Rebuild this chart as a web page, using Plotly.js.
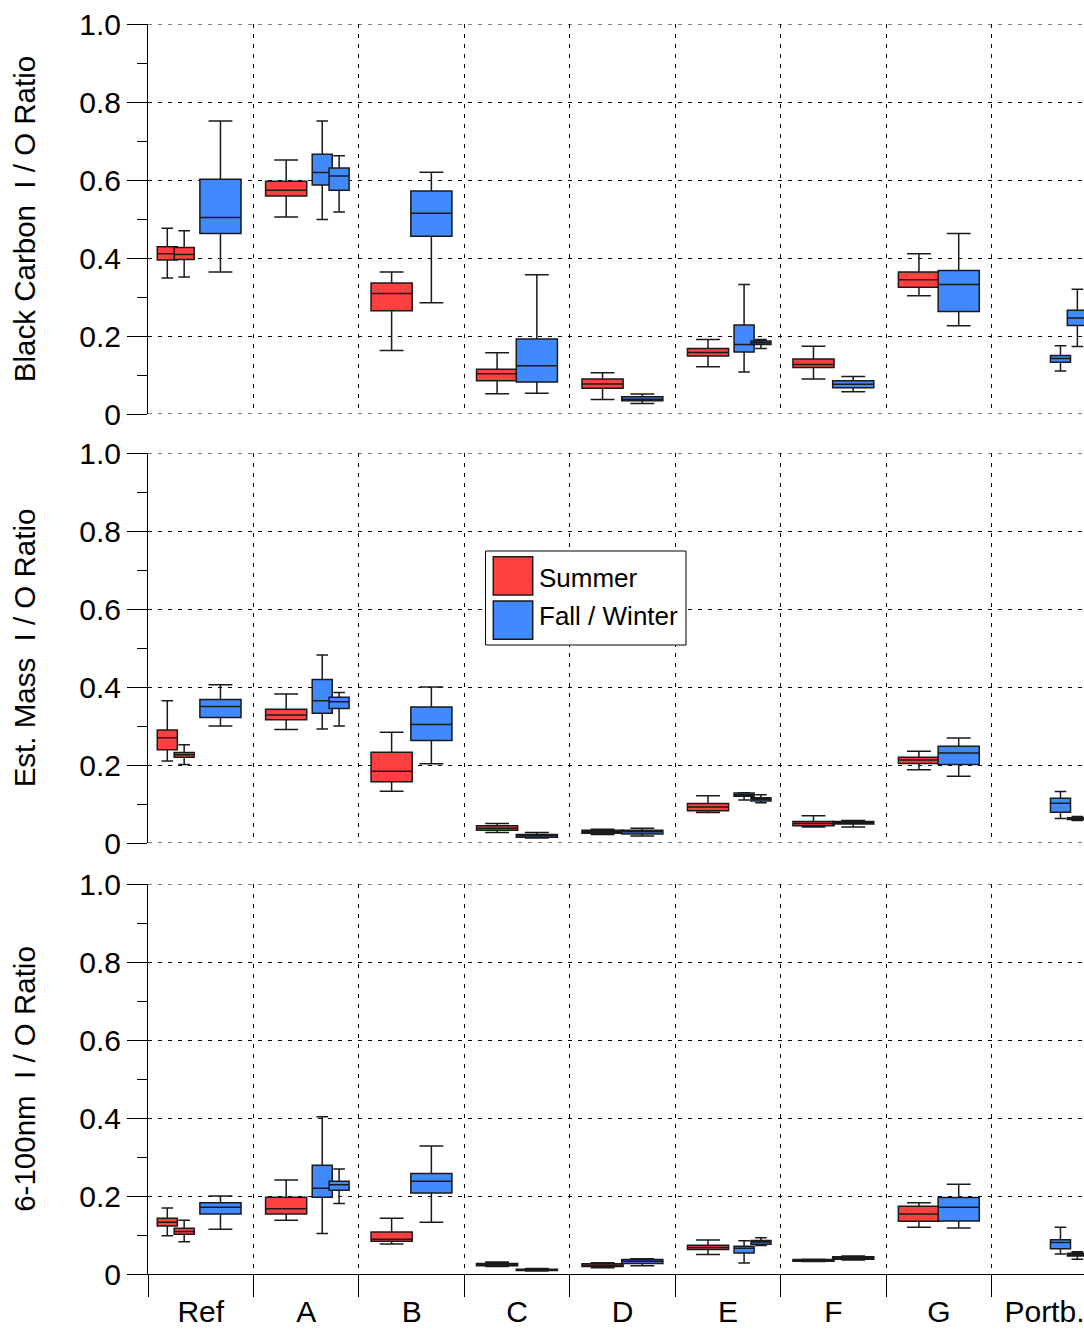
<!DOCTYPE html>
<html>
<head>
<meta charset="utf-8">
<script src="https://cdn.plot.ly/plotly-3.0.1.min.js"></script>
<style>html,body{margin:0;padding:0;background:#fff;}#chart{width:1084px;height:1329px;}</style>
</head>
<body>
<div id="chart"></div>
<script>
// ---------- data ----------
const categories = ['Ref', 'A', 'B', 'C', 'D', 'E', 'F', 'G', 'Portb.'];
const seriesNames = ['Summer', 'Fall / Winter'];
const yTickVals = [0, 0.2, 0.4, 0.6, 0.8, 1.0];
const yTickText = ['0', '0.2', '0.4', '0.6', '0.8', '1.0'];
const panelTitles = ['Black Carbon\u00a0\u00a0I / O Ratio', 'Est. Mass\u00a0\u00a0I / O Ratio', '6-100nm\u00a0\u00a0I / O Ratio'];

// each box: [lower whisker, q1, median, q3, upper whisker]; null = no box for that category
// Black carbon
const bcSummer = [null, [0.505,0.559,0.574,0.597,0.651], [0.163,0.265,0.309,0.336,0.364], [0.052,0.085,0.103,0.115,0.157], [0.037,0.066,0.077,0.090,0.106], [0.121,0.149,0.158,0.168,0.191], [0.090,0.119,0.127,0.141,0.174], [0.303,0.325,0.344,0.364,0.411], null];
const bcSummerPair = [[[0.349,0.395,0.411,0.429,0.476],[0.351,0.396,0.409,0.427,0.470]], null, null, null, null, null, null, null, null];
const bcWinter = [[0.364,0.463,0.504,0.602,0.751], null, [0.285,0.456,0.515,0.572,0.620], [0.053,0.082,0.124,0.192,0.357], [0.027,0.034,0.038,0.044,0.051], null, [0.057,0.067,0.076,0.085,0.096], [0.226,0.263,0.332,0.368,0.463], null];
const bcWinterPair = [null, [[0.499,0.587,0.619,0.666,0.751],[0.518,0.574,0.610,0.631,0.662]], null, null, null, [[0.108,0.159,0.178,0.228,0.332],[0.168,0.178,0.183,0.187,0.191]], null, null, [[0.110,0.133,0.142,0.150,0.175],[0.173,0.227,0.246,0.266,0.320]]];
// Estimated mass
const massSummer = [null, [0.291,0.316,0.328,0.343,0.382], [0.133,0.157,0.184,0.233,0.284], [0.027,0.033,0.038,0.044,0.050], [0.022,0.025,0.029,0.033,0.035], [0.078,0.083,0.092,0.101,0.121], [0.041,0.044,0.050,0.055,0.070], [0.188,0.204,0.213,0.220,0.235], null];
const massSummerPair = [[[0.210,0.239,0.270,0.290,0.365],[0.201,0.220,0.226,0.232,0.252]], null, null, null, null, null, null, null, null];
const massWinter = [[0.300,0.322,0.350,0.368,0.406], null, [0.203,0.263,0.304,0.349,0.400], [0.013,0.015,0.019,0.022,0.027], [0.018,0.023,0.029,0.033,0.038], null, [0.041,0.049,0.052,0.055,0.058], [0.171,0.201,0.231,0.248,0.269], null];
const massWinterPair = [null, [[0.292,0.333,0.365,0.419,0.482],[0.300,0.345,0.362,0.374,0.386]], null, null, null, [[0.110,0.120,0.124,0.128,0.129],[0.103,0.108,0.112,0.116,0.124]], null, null, [[0.063,0.079,0.102,0.115,0.132],[0.058,0.060,0.063,0.065,0.068]]];
// 6-100 nm particles
const ufSummer = [null, [0.138,0.154,0.167,0.197,0.241], [0.077,0.084,0.089,0.108,0.143], [0.019,0.021,0.025,0.027,0.031], [0.016,0.019,0.022,0.026,0.029], [0.050,0.063,0.068,0.074,0.087], [0.032,0.033,0.035,0.037,0.038], [0.120,0.135,0.154,0.174,0.183], null];
const ufSummerPair = [[[0.098,0.123,0.133,0.143,0.169],[0.083,0.102,0.109,0.117,0.138]], null, null, null, null, null, null, null, null];
const ufWinter = [[0.115,0.154,0.171,0.183,0.200], null, [0.133,0.208,0.238,0.258,0.328], [0.008,0.009,0.010,0.012,0.014], [0.021,0.027,0.033,0.037,0.039], null, [0.036,0.038,0.042,0.044,0.046], [0.118,0.136,0.171,0.196,0.230], null];
const ufWinterPair = [null, [[0.104,0.197,0.220,0.279,0.403],[0.181,0.215,0.229,0.238,0.269]], null, null, null, [[0.028,0.054,0.066,0.071,0.085],[0.073,0.076,0.082,0.086,0.093]], null, null, [[0.051,0.065,0.081,0.088,0.120],[0.038,0.046,0.050,0.053,0.057]]];

// ---------- style ----------
const RED = '#FF4040';
const BLUE = '#4189FF';
const FONT = 'Liberation Sans, Arial, Helvetica, sans-serif';
const EDGE = '#1a1a1a';

const traces = [];
function addGroup(xa, ya, data, offsets, width, color) {
  offsets.forEach((off, k) => {
    const xs = [], lo = [], q1 = [], md = [], q3 = [], hi = [];
    data.forEach((entry, i) => {
      if (!entry) return;
      const s = offsets.length > 1 ? entry[k] : entry;
      xs.push(i + off); lo.push(s[0]); q1.push(s[1]); md.push(s[2]); q3.push(s[3]); hi.push(s[4]);
    });
    traces.push({
      type: 'box', xaxis: xa, yaxis: ya, x: xs,
      lowerfence: lo, q1: q1, median: md, q3: q3, upperfence: hi,
      width: width, whiskerwidth: 0.58, fillcolor: color,
      line: {color: EDGE, width: 1.5}, hoverinfo: 'skip', showlegend: false
    });
  });
}
const panels = [
  ['x', 'y', bcSummer, bcSummerPair, bcWinter, bcWinterPair],
  ['x2', 'y2', massSummer, massSummerPair, massWinter, massWinterPair],
  ['x3', 'y3', ufSummer, ufSummerPair, ufWinter, ufWinterPair]
];
panels.forEach(p => {
  addGroup(p[0], p[1], p[2], [0.31], 0.39, RED);
  addGroup(p[0], p[1], p[3], [0.183, 0.343], 0.19, RED);
  addGroup(p[0], p[1], p[4], [0.687], 0.39, BLUE);
  addGroup(p[0], p[1], p[5], [0.652, 0.812], 0.19, BLUE);
});

const GRIDDASH = '4px,6px';
const xRange = [0, 8.875];
function xAxis(anchor, bottom) {
  return {
    anchor: anchor, range: xRange, fixedrange: true,
    tickmode: 'array', tickvals: categories.map((c, i) => i + 0.5), ticktext: categories,
    showticklabels: bottom, ticks: bottom ? 'outside' : '', ticklen: 11, tickcolor: 'rgba(0,0,0,0)',
    tickfont: {family: FONT, size: 30, color: '#000'}, ticklabeloverflow: 'allow',
    showgrid: false, zeroline: false,
    showline: bottom, linecolor: '#000', linewidth: 1,
    minor: {tickmode: 'linear', tick0: 0, dtick: 1, ticks: bottom ? 'outside' : '', ticklen: 22, tickwidth: 1, tickcolor: '#000',
            showgrid: true, gridcolor: '#000', gridwidth: 1, griddash: GRIDDASH}
  };
}
function yAxis(anchor, domain, title) {
  return {
    anchor: anchor, domain: domain, range: [0, 1], fixedrange: true,
    tickmode: 'array', tickvals: yTickVals, ticktext: yTickText,
    ticks: 'outside', ticklen: 20, tickwidth: 1, tickcolor: '#000',
    tickfont: {family: FONT, size: 30, color: '#000'},
    showgrid: true, gridcolor: '#000', gridwidth: 1, griddash: GRIDDASH,
    zeroline: false, showline: true, linecolor: '#000', linewidth: 1,
    minor: {tickmode: 'linear', tick0: 0, dtick: 0.1, ticks: 'outside', ticklen: 10, tickwidth: 1, tickcolor: '#000', showgrid: false},
    title: {text: title, font: {family: FONT, size: 29.5, color: '#000'}, standoff: 34}
  };
}

// dotted lines at the panel edges (0 and 1.0) where the grid is not drawn
const edgeLines = [];
[['y', true], ['y2', true], ['y3', false]].forEach(([ya, withZero]) => {
  const vals = withZero ? [0, 1] : [1];
  vals.forEach(v => edgeLines.push({type: 'line', xref: 'paper', yref: ya, x0: 0, x1: 1, y0: v, y1: v,
    line: {color: '#000', width: 1, dash: GRIDDASH}, layer: 'below'}));
});

const legendShapes = [
  {type: 'rect', xref: 'paper', yref: 'paper', x0: 0.3606, x1: 0.5748, y0: 0.5032, y1: 0.5784, fillcolor: '#fff', line: {color: '#000', width: 1}, layer: 'above'},
  {type: 'rect', xref: 'paper', yref: 'paper', x0: 0.3689, x1: 0.4110, y0: 0.5432, y1: 0.5738, fillcolor: RED, line: {color: EDGE, width: 1.5}, layer: 'above'},
  {type: 'rect', xref: 'paper', yref: 'paper', x0: 0.3689, x1: 0.4110, y0: 0.5078, y1: 0.5384, fillcolor: BLUE, line: {color: EDGE, width: 1.5}, layer: 'above'}
];
const legendText = [
  {xref: 'paper', yref: 'paper', x: 0.4156, y: 0.5568, xanchor: 'left', yanchor: 'middle', text: seriesNames[0], showarrow: false, font: {family: FONT, size: 26, color: '#000'}},
  {xref: 'paper', yref: 'paper', x: 0.4156, y: 0.5264, xanchor: 'left', yanchor: 'middle', text: seriesNames[1], showarrow: false, font: {family: FONT, size: 26, color: '#000'}}
];

const H = 1250; // plot height in px (24 .. 1274)
const layout = {
  width: 1084, height: 1329,
  margin: {l: 148, r: 0, t: 24, b: 55, pad: 0},
  paper_bgcolor: '#fff', plot_bgcolor: '#fff',
  showlegend: false, boxmode: 'overlay',
  font: {family: FONT, size: 28, color: '#000'},
  xaxis: xAxis('y', false),
  xaxis2: xAxis('y2', false),
  xaxis3: xAxis('y3', true),
  yaxis: yAxis('x', [860 / H, 1], panelTitles[0]),
  yaxis2: yAxis('x2', [431 / H, 821 / H], panelTitles[1]),
  yaxis3: yAxis('x3', [0, 390 / H], panelTitles[2]),
  shapes: edgeLines.concat(legendShapes),
  annotations: legendText
};

Plotly.newPlot('chart', traces, layout, {staticPlot: true, displayModeBar: false});
</script>
</body>
</html>
